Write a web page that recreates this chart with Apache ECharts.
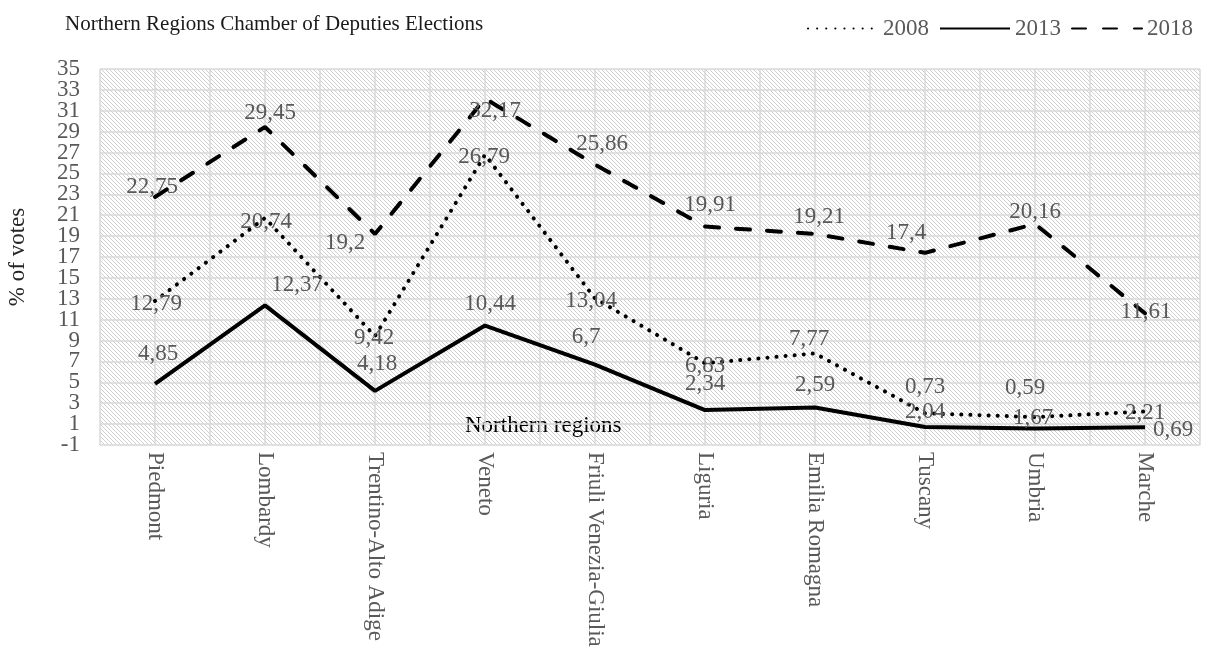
<!DOCTYPE html>
<html>
<head>
<meta charset="utf-8">
<script src="https://cdn.jsdelivr.net/npm/echarts@6/dist/echarts.min.js"></script>
<style>
  html, body { margin: 0; padding: 0; background: #fff; }
  #chart-container { width: 1212px; height: 659px; }
</style>
</head>
<body>
<div id="chart-container"></div>
<script>
// data
var regions = ['Piedmont', 'Lombardy', 'Trentino-Alto Adige', 'Veneto', 'Friuli Venezia-Giulia',
    'Liguria', 'Emilia Romagna', 'Tuscany', 'Umbria', 'Marche'];
var votes2008 = [12.79, 20.74, 9.42, 26.79, 13.04, 6.83, 7.77, 2.04, 1.67, 2.21];
var votes2013 = [4.85, 12.37, 4.18, 10.44, 6.7, 2.34, 2.59, 0.73, 0.59, 0.69];
var votes2018 = [22.75, 29.45, 19.2, 32.17, 25.86, 19.91, 19.21, 17.4, 20.16, 11.61];

// label nudges (px) so labels sit roughly where Excel put them
var off2008 = [[1, 3], [1, 4], [-1, 2], [-1, 2], [-4, 3], [0, 3], [-6, -14], [0, -1], [-2, 1], [0, 1]];
var off2013 = [[3, -30], [32, -20], [2, -27], [5, -22], [-9, -28], [0, -26], [0, -23], [0, -40], [-10, -40], [28, 3]];
var off2018 = [[-3, -10], [5, -14], [-30, 9], [10, 12], [7, -21], [5, -22], [4, -17], [-19, -20], [0, -12], [1, -1]];

var FONT = '"Liberation Serif", "DejaVu Serif", serif';

// hatch pattern for plot background
var hatch = document.createElement('canvas');
hatch.width = 8;
hatch.height = 8;
var hctx = hatch.getContext('2d');
hctx.fillStyle = '#ffffff';
hctx.fillRect(0, 0, 8, 8);
hctx.strokeStyle = '#cfcfcf';
hctx.lineWidth = 1;
[-8, -4, 0, 4, 8].forEach(function (k) {
    hctx.beginPath();
    hctx.moveTo(k, 0);
    hctx.lineTo(k + 8, 8);
    hctx.stroke();
});

function fmt(p) {
    return String(p.value).replace('.', ',');
}

function makeData(values, offsets) {
    return values.map(function (v, i) {
        return { value: v, label: { offset: offsets[i] } };
    });
}

function makeSeries(name, values, offsets, lineType, cap) {
    return {
        name: name,
        type: 'line',
        data: makeData(values, offsets),
        symbol: 'circle',
        symbolSize: 1,
        itemStyle: { color: 'rgba(0,0,0,0)' },
        lineStyle: { color: '#000', width: 4, type: lineType, cap: cap },
        label: {
            show: true,
            position: 'inside',
            formatter: fmt,
            color: '#595959',
            fontFamily: FONT,
            fontSize: 23
        },
        emphasis: { disabled: true },
        animation: false
    };
}

// the tick labels touch each other, so they are split over two stacked axes
// (every other label on each) to stop ECharts from dropping any of them
function yLabelAxis(keepEven, withGrid) {
    return {
        type: 'value',
        min: -1,
        max: 35,
        interval: 2,
        position: 'left',
        name: withGrid ? '% of votes' : '',
        nameLocation: 'middle',
        nameGap: 71,
        nameTextStyle: { fontFamily: FONT, fontSize: 23, color: '#262626' },
        axisLine: { show: false },
        axisTick: { show: false },
        axisLabel: {
            fontFamily: FONT,
            fontSize: 23,
            color: '#595959',
            margin: 20,
            showMinLabel: true,
            showMaxLabel: true,
            formatter: function (v) {
                var k = Math.round((v + 1) / 2);
                return (k % 2 === 0) === keepEven ? String(v) : '';
            }
        },
        splitLine: { show: withGrid, lineStyle: { color: '#d9d9d9', width: 1.5 } }
    };
}

var chart = echarts.init(document.getElementById('chart-container'));
var option = {
    backgroundColor: '#fff',
    title: {
        text: 'Northern Regions Chamber of Deputies Elections',
        left: 60,
        top: 9,
        textStyle: { fontFamily: FONT, fontSize: 21, fontWeight: 'normal', color: '#1a1a1a' }
    },
    legend: {
        right: 14,
        top: 12,
        itemWidth: 70,
        itemHeight: 10,
        itemGap: 10,
        textStyle: { fontFamily: FONT, fontSize: 23, color: '#595959' },
        data: ['2008', '2013', '2018']
    },
    grid: {
        left: 100,
        right: 12,
        top: 69,
        bottom: 214,
        outerBoundsMode: 'none',
        containLabel: false,
        show: true,
        borderWidth: 0,
        backgroundColor: { image: hatch, repeat: 'repeat' }
    },
    xAxis: [
        {
            type: 'category',
            data: regions,
            axisLine: { show: false },
            axisTick: { show: false },
            axisLabel: {
                rotate: -90,
                margin: 7,
                interval: 0,
                fontFamily: FONT,
                fontSize: 23,
                color: '#595959'
            }
        },
        {
            type: 'value',
            min: 0,
            max: 20,
            interval: 1,
            position: 'top',
            axisLine: { show: false },
            axisTick: { show: false },
            axisLabel: { show: false },
            splitLine: { show: true, lineStyle: { color: '#d9d9d9', width: 1.5 } }
        }
    ],
    yAxis: [yLabelAxis(true, true), yLabelAxis(false, false)],
    graphic: [
        {
            type: 'text',
            left: 465,
            top: 414,
            style: { text: 'Northern regions', font: '23px ' + FONT, fill: '#000' }
        }
    ],
    series: [
        makeSeries('2008', votes2008, off2008, [0.1, 9], 'round'),
        makeSeries('2013', votes2013, off2013, 'solid', 'butt'),
        makeSeries('2018', votes2018, off2018, [14, 17], 'round')
    ]
};
chart.setOption(option);
</script>
</body>
</html>
